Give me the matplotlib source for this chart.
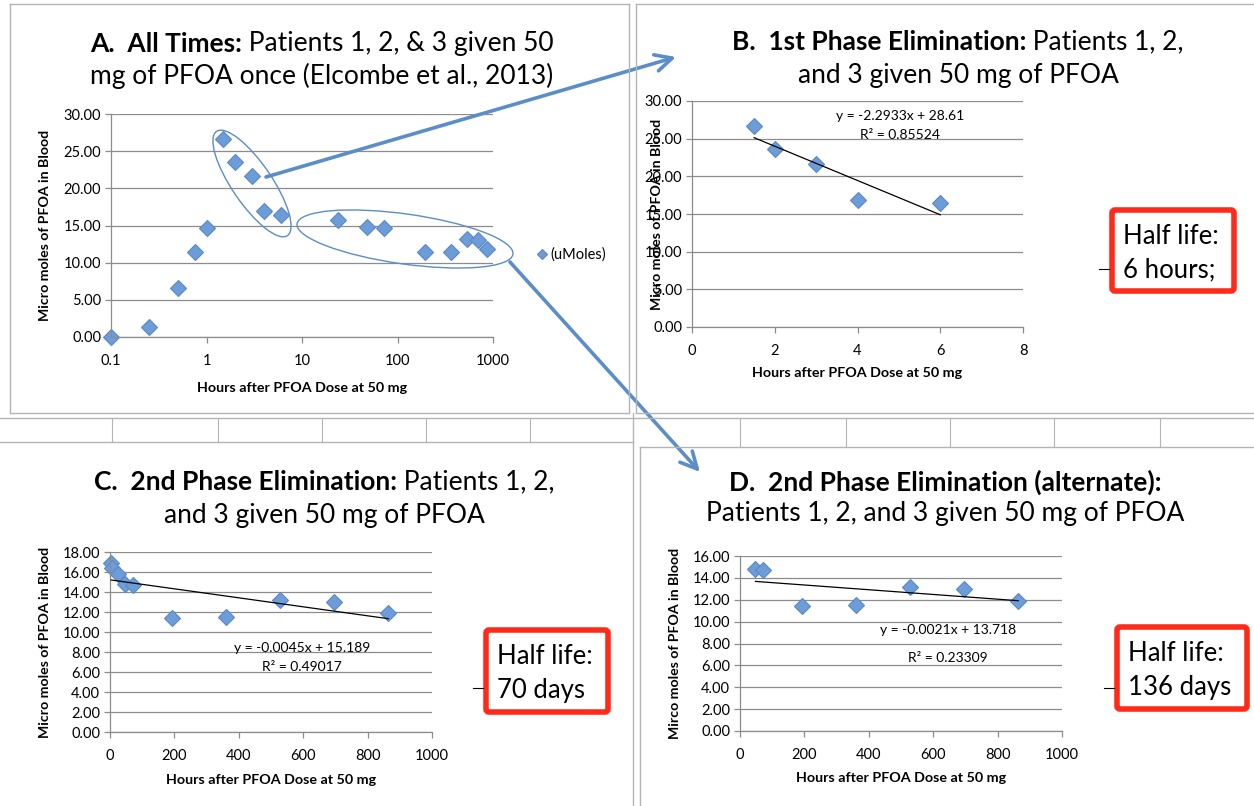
import numpy as np
import matplotlib
matplotlib.use('Agg')
import matplotlib.pyplot as plt
from matplotlib.patches import Ellipse, FancyArrowPatch, FancyBboxPatch

plt.rcParams['font.family'] = ['Lato', 'DejaVu Sans']

# ---- data ----
a_hours = [0.1, 0.25, 0.5, 0.75, 1, 1.5, 2, 3, 4, 6, 24, 48, 72, 192, 360, 528, 696, 864]
a_umol = [0.0, 1.4, 6.6, 11.4, 14.6, 26.7, 23.6, 21.6, 16.9, 16.4, 15.8, 14.8, 14.7, 11.4, 11.5, 13.2, 13.0, 11.9]

b_hours = [1.5, 2, 3, 4, 6]
b_umol = [26.7, 23.6, 21.6, 16.9, 16.4]

c_hours = [4, 6, 24, 48, 72, 192, 360, 528, 696, 864]
c_umol = [16.9, 16.4, 15.8, 14.8, 14.7, 11.4, 11.5, 13.2, 13.0, 11.9]

d_hours = [48, 72, 192, 360, 528, 696, 864]
d_umol = [14.8, 14.7, 11.4, 11.5, 13.2, 13.0, 11.9]

b_eq = ["y = -2.2933x + 28.61", "R² = 0.85524"]
c_eq = ["y = -0.0045x + 15.189", "R² = 0.49017"]
d_eq = ["y = -0.0021x + 13.718", "R² = 0.23309"]

half_lives = ["6 hours;", "70 days", "136 days"]

xlabel = "Hours after PFOA Dose at 50 mg"
ylabel = "Micro moles of PFOA in Blood"
ylabel_d = "Mirco moles of PFOA in Blood"

# ---- figure in pixel units ----
W, H = 1254, 806
fig = plt.figure(figsize=(W / 100, H / 100), dpi=100)

GRID = '#8c8c8c'
FACE = '#6d9dd8'
EDGE = '#5a88c4'
ARROW = '#5b8dc8'


def px_axes(l, t, r, b):
    return fig.add_axes([l / W, 1 - b / H, (r - l) / W, (b - t) / H])


def setup(ax, box, ylim, ystep, ylab, xlab_y, ylab_x):
    l, t, r, b = box
    ax.set_ylim(*ylim)
    ax.set_yticks(np.arange(ylim[0], ylim[1] + 0.01, ystep))
    ax.yaxis.set_major_formatter('{x:.2f}')
    ax.grid(axis='y', color=GRID, lw=0.9)
    ax.set_axisbelow(True)
    for s in ['top', 'right']:
        ax.spines[s].set_visible(False)
    for s in ['left', 'bottom']:
        ax.spines[s].set_color(GRID)
        ax.spines[s].set_linewidth(0.9)
    ax.tick_params(direction='out', length=4, width=0.9, color=GRID, labelsize=10.5, pad=3)
    ax.tick_params(axis='x', pad=8)
    ax.set_xlabel(xlabel, fontsize=10.3, fontweight='bold')
    ax.set_ylabel(ylab, fontsize=10.2, fontweight='bold')
    ax.xaxis.label.set(va='center')
    ax.yaxis.label.set(va='center', rotation_mode='anchor')
    ax.xaxis.set_label_coords(0.5, (b - xlab_y) / (b - t))
    ax.yaxis.set_label_coords((ylab_x - l) / (r - l), 0.5)


def points(ax, x, y, **kw):
    return ax.plot(x, y, 'D', ms=8.5, mfc=FACE, mec=EDGE, mew=0.8, ls='none', **kw)[0]


def trend(ax, x, y):
    k, c = np.polyfit(x, y, 1)
    xs = np.array([min(x), max(x)])
    ax.plot(xs, k * xs + c, color='black', lw=0.9, zorder=3)


# Panel A
box_a = (111, 114, 493, 337)
ax_a = px_axes(*box_a)
ax_a.set_xscale('log')
ax_a.set_xlim(0.1, 1000)
ax_a.set_xticks([0.1, 1, 10, 100, 1000])
ax_a.set_xticklabels(['0.1', '1', '10', '100', '1000'])
ax_a.xaxis.set_minor_locator(matplotlib.ticker.NullLocator())
setup(ax_a, box_a, (0, 30), 5, ylabel, 388, 45)
h = points(ax_a, a_hours, a_umol, label='(uMoles)', clip_on=False)
ax_a.legend(handles=[h], loc='center left', bbox_to_anchor=(536 / W, 1 - 255 / H),
            bbox_transform=fig.transFigure, frameon=False, handletextpad=0.2,
            borderaxespad=0, borderpad=0, handlelength=0.8, fontsize=10.5,
            markerscale=0.65, numpoints=1)

# Panel B
box_b = (692, 101, 1023, 327)
ax_b = px_axes(*box_b)
ax_b.set_xlim(0, 8)
ax_b.set_xticks([0, 2, 4, 6, 8])
setup(ax_b, box_b, (0, 30), 5, ylabel, 373, 657)
points(ax_b, b_hours, b_umol)
trend(ax_b, b_hours, b_umol)

# Panel C
box_c = (110, 552, 432, 732)
ax_c = px_axes(*box_c)
ax_c.set_xlim(0, 1000)
ax_c.set_xticks(np.arange(0, 1001, 200))
setup(ax_c, box_c, (0, 18), 2, ylabel, 780, 45)
points(ax_c, c_hours, c_umol, clip_on=False)
trend(ax_c, c_hours, c_umol)

# Panel D
box_d = (740, 556, 1062, 731)
ax_d = px_axes(*box_d)
ax_d.set_xlim(0, 1000)
ax_d.set_xticks(np.arange(0, 1001, 200))
setup(ax_d, box_d, (0, 16), 2, ylabel_d, 778, 675)
points(ax_d, d_hours, d_umol)
trend(ax_d, d_hours, d_umol)

# ---- overlay in pixel coordinates ----
ov = fig.add_axes([0, 0, 1, 1])
ov.set_xlim(0, W)
ov.set_ylim(H, 0)
ov.axis('off')

FRAME = '#b4b4b4'
lines = [
    ((10, 10), (4, 413)), ((10, 629), (4, 4)), ((10, 629), (413, 413)), ((629, 629), (4, 413)),
    ((636, 636), (4, 413)), ((636, 1254), (4, 4)), ((636, 1254), (413, 413)),
    ((0, 1254), (418, 418)), ((0, 633), (442, 442)), ((633, 633), (413, 806)),
    ((640, 640), (447, 806)), ((640, 1254), (447, 447)),
]
for xs, ys in lines:
    ov.plot(xs, ys, color=FRAME, lw=1.0)
for x in [112, 218, 322, 426, 530, 740, 846, 950, 1054, 1160]:
    ov.plot([x, x], [418, 442 if x < 633 else 447], color=FRAME, lw=0.8)


def rich_line(cx, y, parts, size=19):
    texts = [ov.text(0, y, s, fontsize=size, fontweight=w, va='center', ha='left')
             for s, w in parts]
    r = fig.canvas.get_renderer()
    widths = [t.get_window_extent(r).width for t in texts]
    x = cx - sum(widths) / 2
    for t, wd in zip(texts, widths):
        t.set_x(x)
        x += wd


rich_line(322, 44, [("A.  All Times:", 'bold'), (" Patients 1, 2, & 3 given 50", 'normal')])
rich_line(322, 76, [("mg of PFOA once (Elcombe et al., 2013)", 'normal')])
rich_line(958, 42, [("B.  1st Phase Elimination:", 'bold'), (" Patients 1, 2,", 'normal')])
rich_line(958, 75, [("and 3 given 50 mg of PFOA", 'normal')])
rich_line(324, 482, [("C.  2nd Phase Elimination:", 'bold'), (" Patients 1, 2,", 'normal')])
rich_line(324, 515, [("and 3 given 50 mg of PFOA", 'normal')])
rich_line(945, 482, [("D.  2nd Phase Elimination (alternate):", 'bold')])
rich_line(945, 514, [("Patients 1, 2, and 3 given 50 mg of PFOA", 'normal')])

# regression equations
for (cx, y1, y2), eq in zip([(900, 116, 135), (302, 648, 667), (948, 630, 658)], [b_eq, c_eq, d_eq]):
    ov.text(cx, y1, eq[0], fontsize=10, ha='center', va='center')
    ov.text(cx, y2, eq[1], fontsize=10, ha='center', va='center')

# ellipses + arrows
ov.add_patch(Ellipse((252, 183.5), 126, 40, angle=55.8, fill=False, ec=ARROW, lw=1.0))
ov.add_patch(Ellipse((405, 239), 218, 50, angle=8, fill=False, ec=ARROW, lw=1.0))
for p0, p1 in [((266, 177), (676, 57)), ((510, 262), (700, 472))]:
    ov.add_patch(FancyArrowPatch(p0, p1, arrowstyle='->,head_length=12,head_width=6',
                                 color=ARROW, lw=2.6, mutation_scale=1, shrinkA=0, shrinkB=0))

# half-life boxes
for (l, t, r, b, tick_y), hl in zip([(1109, 207, 1237, 294, 269), (483, 627, 611, 715, 688),
                                     (1114, 624, 1250, 712, 688)], half_lives):
    ov.add_patch(FancyBboxPatch((l + 3, t + 3), r - l - 6, b - t - 6,
                                boxstyle='round,pad=0,rounding_size=3',
                                fc='white', ec='#ff2a1a', lw=4))
    ov.plot([l - 10, l], [tick_y, tick_y], color='black', lw=0.8)
    ov.text(l + 14, t + (b - t) * 0.34, "Half life:", fontsize=18.5, va='center', ha='left')
    ov.text(l + 14, t + (b - t) * 0.72, hl, fontsize=18.5, va='center', ha='left')

fig.savefig('out.png', dpi=100, facecolor='white')
